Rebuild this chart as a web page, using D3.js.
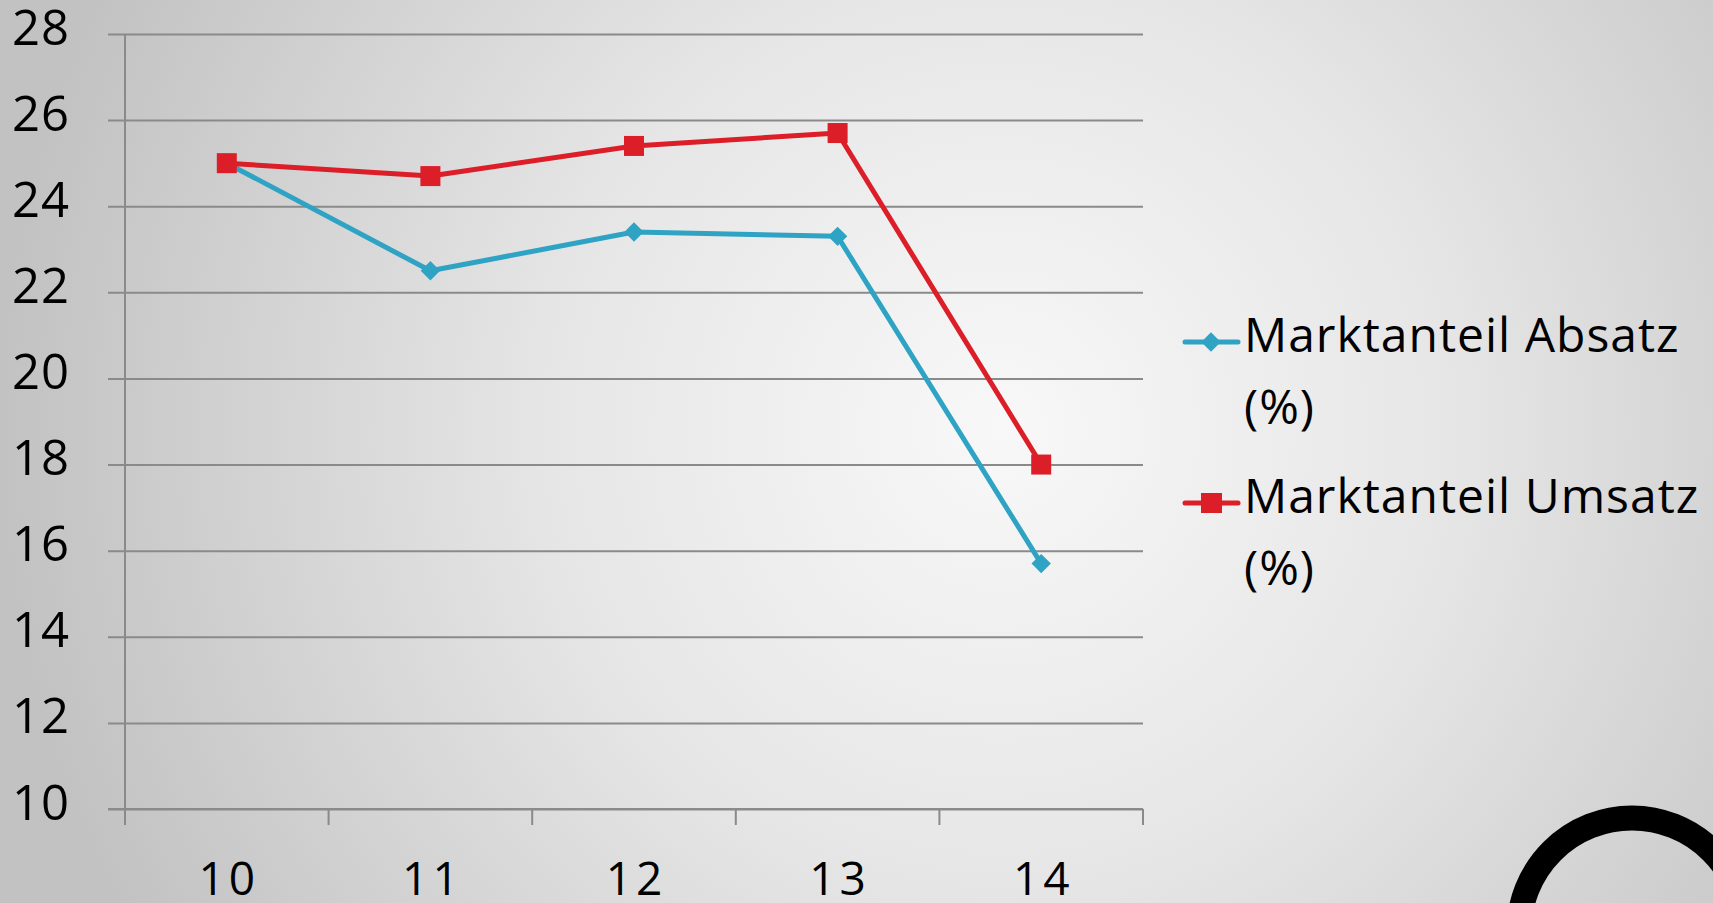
<!DOCTYPE html>
<html>
<head>
<meta charset="utf-8">
<script src="https://cdn.jsdelivr.net/npm/d3@7"></script>
<style>
  html, body { margin: 0; padding: 0; overflow: hidden; }
  svg { display: block; }
</style>
</head>
<body>
<div id="chart"></div>
<script>
// Daten
const years = ['10', '11', '12', '13', '14'];
const absatz = [25.0, 22.5, 23.4, 23.3, 15.7];
const umsatz = [25.0, 24.7, 25.4, 25.7, 18.0];
const yTicks = [10, 12, 14, 16, 18, 20, 22, 24, 26, 28];
const seriesNames = ['Marktanteil Absatz', 'Marktanteil Umsatz'];

const svgWidth = 1713;
const svgHeight = 903;
const fontFamily = '"Open Sans", "DejaVu Sans", sans-serif';

const svg = d3.select('#chart')
  .append('svg')
  .attr('width', svgWidth)
  .attr('height', svgHeight);

// Hintergrund
const defs = svg.append('defs');
const grad = defs.append('radialGradient')
  .attr('id', 'bg')
  .attr('gradientUnits', 'userSpaceOnUse')
  .attr('cx', 1000).attr('cy', 430).attr('r', 1000);
grad.append('stop').attr('offset', '0%').attr('stop-color', '#f8f8f8');
grad.append('stop').attr('offset', '45%').attr('stop-color', '#e6e6e6');
grad.append('stop').attr('offset', '100%').attr('stop-color', '#c2c2c2');
svg.append('rect')
  .attr('width', svgWidth).attr('height', svgHeight)
  .attr('fill', 'url(#bg)');

// Scales
const x = d3.scaleBand().domain(years).range([125, 1143]);
const y = d3.scaleLinear().domain([10, 28]).range([809, 34]);

// Gitterlinien + y-Achse
const yAxis = d3.axisLeft(y)
  .tickValues(yTicks)
  .tickSize(-(1143 - 108))
  .tickPadding(0)
  .tickFormat(d3.format('d'));

const gy = svg.append('g')
  .attr('transform', 'translate(108,0)')
  .call(yAxis);
gy.select('.domain').remove();
gy.selectAll('.tick line')
  .attr('stroke', '#8a8a8a')
  .attr('stroke-width', 2);
gy.selectAll('.tick text')
  .attr('x', -38)
  .attr('y', 10)
  .attr('dy', 0)
  .attr('fill', '#000')
  .attr('font-family', fontFamily)
  .attr('font-size', 49)
  .attr('letter-spacing', 1)
  .attr('text-anchor', 'end');

// x-Achse
const xAxis = d3.axisBottom(x)
  .tickSize(0)
  .tickPadding(0);
const gx = svg.append('g')
  .attr('transform', `translate(0,${y(10)})`)
  .call(xAxis);
gx.select('.domain')
  .attr('stroke', '#8a8a8a')
  .attr('stroke-width', 2)
  .attr('d', `M108,0H1143`);
gx.selectAll('.tick text')
  .attr('y', 86)
  .attr('dy', 0)
  .attr('dx', 2)
  .attr('fill', '#000')
  .attr('font-family', fontFamily)
  .attr('font-size', 46)
  .attr('letter-spacing', 4);

// Tick-Striche zwischen den Kategorien
const bounds = years.map(d => x(d)).concat([x.range()[1]]);
svg.append('g')
  .selectAll('line')
  .data(bounds)
  .join('line')
  .attr('x1', d => d).attr('x2', d => d)
  .attr('y1', y(10)).attr('y2', y(10) + 16)
  .attr('stroke', '#8a8a8a')
  .attr('stroke-width', 2);

// vertikale Achse
svg.append('line')
  .attr('x1', 125).attr('x2', 125)
  .attr('y1', y(28)).attr('y2', y(10) + 16)
  .attr('stroke', '#8a8a8a')
  .attr('stroke-width', 2);

// Linien
const cx = d => x(d) + x.bandwidth() / 2;
const line = d3.line()
  .x((d, i) => cx(years[i]))
  .y(d => y(d));

const blue = '#2ea3c4';
const red = '#dc1e28';

svg.append('path')
  .datum(absatz)
  .attr('d', line)
  .attr('fill', 'none')
  .attr('stroke', blue)
  .attr('stroke-width', 5)
  .attr('stroke-linejoin', 'round');

svg.append('path')
  .datum(umsatz)
  .attr('d', line)
  .attr('fill', 'none')
  .attr('stroke', red)
  .attr('stroke-width', 5)
  .attr('stroke-linejoin', 'round');

// Marker
const diamond = d3.symbol().type(d3.symbolDiamond2).size(240);
svg.append('g')
  .selectAll('path')
  .data(absatz)
  .join('path')
  .attr('d', diamond)
  .attr('transform', (d, i) => `translate(${cx(years[i])},${y(d)})`)
  .attr('fill', blue);

svg.append('g')
  .selectAll('rect')
  .data(umsatz)
  .join('rect')
  .attr('x', (d, i) => cx(years[i]) - 10)
  .attr('y', d => y(d) - 10)
  .attr('width', 20)
  .attr('height', 20)
  .attr('fill', red);

// Legende
const legend = svg.append('g').attr('transform', 'translate(1183,0)');
const legendItems = [
  { name: seriesNames[0], color: blue, top: 342, shape: 'diamond' },
  { name: seriesNames[1], color: red, top: 503, shape: 'square' }
];
legendItems.forEach(item => {
  const g = legend.append('g').attr('transform', `translate(0,${item.top})`);
  g.append('line')
    .attr('x1', 2).attr('x2', 55)
    .attr('stroke', item.color)
    .attr('stroke-width', 5)
    .attr('stroke-linecap', 'round');
  if (item.shape === 'diamond') {
    g.append('path')
      .attr('d', diamond)
      .attr('transform', 'translate(28,0)')
      .attr('fill', item.color);
  } else {
    g.append('rect')
      .attr('x', 18).attr('y', -10)
      .attr('width', 21).attr('height', 20)
      .attr('fill', item.color);
  }
  const t = g.append('text')
    .attr('font-family', fontFamily)
    .attr('font-size', 48)
    .attr('letter-spacing', 1)
    .attr('fill', '#000');
  t.append('tspan').attr('x', 61).attr('y', 10).text(item.name);
  t.append('tspan').attr('x', 61).attr('y', 82).text('(%)');
});

// Kreis unten rechts
svg.append('circle')
  .attr('cx', 1632).attr('cy', 931)
  .attr('r', 113)
  .attr('fill', 'none')
  .attr('stroke', '#000')
  .attr('stroke-width', 25);
</script>
</body>
</html>
